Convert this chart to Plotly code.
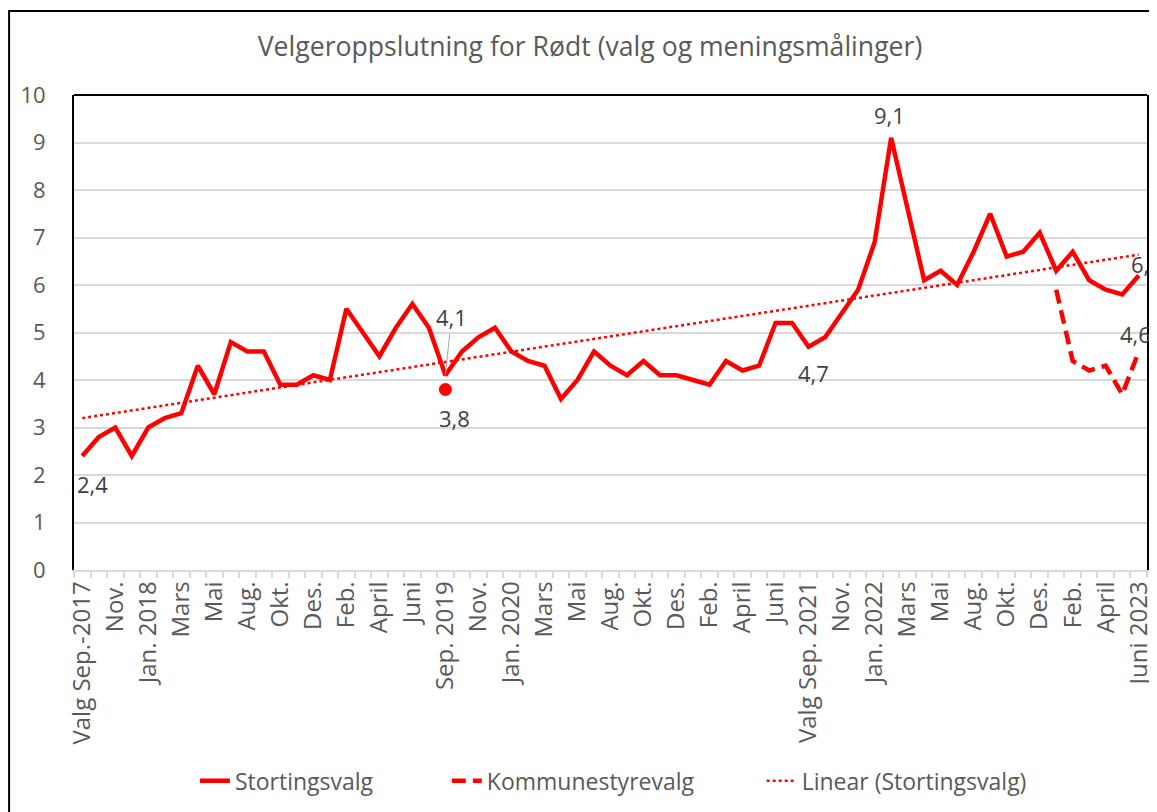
import numpy as np
import plotly.graph_objects as go

# ---- data -------------------------------------------------------------
months = [
    "Sep. 2017", "Okt. 2017", "Nov. 2017", "Des. 2017",
    "Jan. 2018", "Feb. 2018", "Mars 2018", "April 2018", "Mai 2018", "Juni 2018",
    "Aug. 2018", "Sep. 2018", "Okt. 2018", "Nov. 2018", "Des. 2018",
    "Jan. 2019", "Feb. 2019", "Mars 2019", "April 2019", "Mai 2019", "Juni 2019",
    "Aug. 2019", "Sep. 2019", "Okt. 2019", "Nov. 2019", "Des. 2019",
    "Jan. 2020", "Feb. 2020", "Mars 2020", "April 2020", "Mai 2020", "Juni 2020",
    "Aug. 2020", "Sep. 2020", "Okt. 2020", "Nov. 2020", "Des. 2020",
    "Jan. 2021", "Feb. 2021", "Mars 2021", "April 2021", "Mai 2021", "Juni 2021",
    "Aug. 2021", "Sep. 2021", "Okt. 2021", "Nov. 2021", "Des. 2021",
    "Jan. 2022", "Feb. 2022", "Mars 2022", "April 2022", "Mai 2022", "Juni 2022",
    "Aug. 2022", "Sep. 2022", "Okt. 2022", "Nov. 2022", "Des. 2022",
    "Jan. 2023", "Feb. 2023", "Mars 2023", "April 2023", "Mai 2023", "Juni 2023",
]

tick_labels = [
    "Valg Sep.-2017", "Nov.", "Jan. 2018", "Mars", "Mai", "Aug.", "Okt.", "Des.",
    "Feb.", "April", "Juni", "Sep. 2019", "Nov.", "Jan. 2020", "Mars", "Mai",
    "Aug.", "Okt.", "Des.", "Feb.", "April", "Juni", "Valg Sep. 2021", "Nov.",
    "Jan. 2022", "Mars", "Mai", "Aug.", "Okt.", "Des.", "Feb.", "April", "Juni 2023",
]

stortingsvalg = [
    2.4, 2.8, 3.0, 2.4, 3.0, 3.2, 3.3, 4.3, 3.7, 4.8,
    4.6, 4.6, 3.9, 3.9, 4.1, 4.0, 5.5, 5.0, 4.5, 5.1,
    5.6, 5.1, 4.1, 4.6, 4.9, 5.1, 4.6, 4.4, 4.3, 3.6,
    4.0, 4.6, 4.3, 4.1, 4.4, 4.1, 4.1, 4.0, 3.9, 4.4,
    4.2, 4.3, 5.2, 5.2, 4.7, 4.9, 5.4, 5.9, 6.9, 9.1,
    7.6, 6.1, 6.3, 6.0, 6.7, 7.5, 6.6, 6.7, 7.1, 6.3,
    6.7, 6.1, 5.9, 5.8, 6.2,
]

kommunestyrevalg = [None] * 22 + [3.8] + [None] * 36 + [5.9, 4.4, 4.2, 4.3, 3.7, 4.6]

# labelled points: (index, series, text, dx, dy)
labels = [
    (0, "s", "2,4", 10, -28),
    (44, "s", "4,7", 5, -26),
    (49, "s", "9,1", -2, 23),
    (64, "s", "6,2", 8, 12),
    (22, "k", "3,8", 9, -28),
    (64, "k", "4,6", -3, 18),
]

# ---- derived ----------------------------------------------------------
x_idx = list(range(len(months)))
tick_idx = x_idx[::2]
slope, intercept = np.polyfit(x_idx, stortingsvalg, 1)
trend = [slope * i + intercept for i in x_idx]

RED = "#FF0000"
GREY = "#595959"
FONT = "Open Sans"

# page offset (browser body margin) compensation
W, H = 1149, 804
L, T, R, B = 66, 87, 9.5, 242
PW = W - L - R

fig = go.Figure()
fig.add_trace(go.Scatter(
    x=x_idx, y=stortingsvalg, mode="lines", name="Stortingsvalg",
    line=dict(color=RED, width=4.5), legend="legend", text=months,
))
fig.add_trace(go.Scatter(
    x=x_idx, y=kommunestyrevalg, mode="lines", name="Kommunestyrevalg",
    line=dict(color=RED, width=4.5, dash="14px,7px"), connectgaps=False,
    legend="legend2", text=months,
))
iso = [i for i in x_idx if kommunestyrevalg[i] is not None
       and (i == 0 or kommunestyrevalg[i - 1] is None)
       and (i == len(x_idx) - 1 or kommunestyrevalg[i + 1] is None)]
fig.add_trace(go.Scatter(
    x=iso, y=[kommunestyrevalg[i] for i in iso], mode="markers",
    marker=dict(color=RED, size=13), showlegend=False,
))
fig.add_trace(go.Scatter(
    x=x_idx, y=trend, mode="lines", name="Linear (Stortingsvalg)",
    line=dict(color=RED, width=2.5, dash="dot"), legend="legend3",
))

for i, series, txt, dx, dy in labels:
    yv = stortingsvalg[i] if series == "s" else kommunestyrevalg[i]
    fig.add_annotation(x=i, y=yv, text=txt, showarrow=False,
                       xshift=dx, yshift=dy,
                       font=dict(family=FONT, size=22, color="#404040"))

# label with leader line
fig.add_annotation(x=22, y=stortingsvalg[22], text="4,1", showarrow=True,
                   arrowhead=0, arrowwidth=1, arrowcolor="#A6A6A6",
                   ax=6, ay=-58, standoff=0,
                   font=dict(family=FONT, size=22, color="#404040"))

# top border of plot area and outer chart border
fig.add_shape(type="line", xref="paper", yref="paper", x0=0, x1=1, y0=1, y1=1,
              line=dict(color="black", width=2))
fig.add_shape(type="rect", xref="paper", yref="paper",
              x0=-0.0605, x1=1.03, y0=-0.56, y1=1.1768,
              line=dict(color="black", width=2), layer="above")

legend_common = dict(orientation="h", yanchor="middle", y=-0.444, xanchor="left",
                     font=dict(family=FONT, size=23, color=GREY),
                     bgcolor="rgba(0,0,0,0)")
fig.update_layout(
    width=W, height=H,
    margin=dict(l=L, r=R, t=T, b=B, autoexpand=False),
    paper_bgcolor="white", plot_bgcolor="white",
    font=dict(family=FONT, size=22, color=GREY),
    title=dict(text="Velgeroppslutning for Rødt (valg og meningsmålinger)",
               x=582 / W, xref="container", xanchor="center",
               y=1 - 39 / H, yref="container", yanchor="middle",
               font=dict(family=FONT, size=26.6, color=GREY)),
    legend=dict(x=(195 - 74) / PW, **legend_common),
    legend2=dict(x=(447 - 74) / PW, **legend_common),
    legend3=dict(x=(762 - 74) / PW, **legend_common),
    xaxis=dict(range=[-0.5, len(x_idx) - 0.5], tickmode="array",
               tickvals=tick_idx, ticktext=tick_labels, tickangle=-90,
               ticks="", showgrid=False, zeroline=False,
               showline=True, linecolor="#D9D9D9", linewidth=1.5,
               tickfont=dict(family=FONT, size=24, color=GREY),
               minor=dict(tick0=0.5, dtick=1, ticks="outside", ticklen=6,
                          tickcolor="#D9D9D9", tickwidth=1.5, showgrid=False),
               ticklabelstandoff=0),
    yaxis=dict(range=[0, 10], dtick=1, showgrid=True, gridcolor="#D9D9D9",
               gridwidth=1.5, zeroline=False, showline=True, mirror=True,
               linecolor="black", linewidth=2, ticks="",
               tickfont=dict(family=FONT, size=22, color=GREY),
               ticklabelstandoff=22),
)

fig.write_html("out.html")
